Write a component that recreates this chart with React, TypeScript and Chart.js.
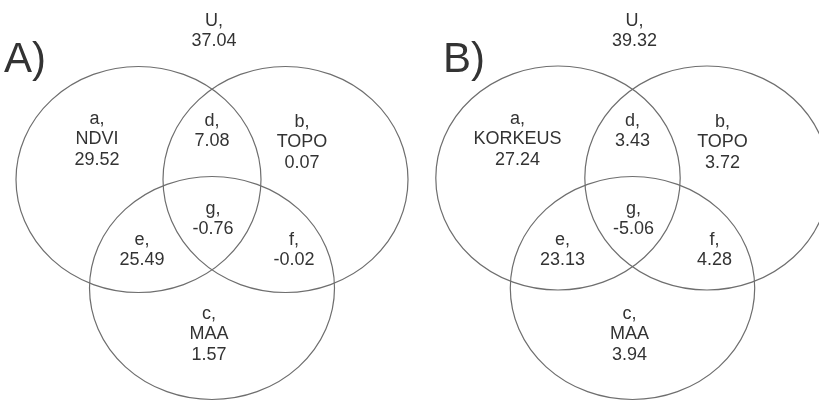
import { useEffect, useRef } from "react";
import { Chart, registerables } from "chart.js";

Chart.register(...registerables);

// Variance partitioning results (%), one three-set Venn diagram per model
const panelTitles = ["A)", "B)"];
const regionLetters = ["U", "a", "b", "c", "d", "e", "f", "g"];
const setNamesA = ["NDVI", "TOPO", "MAA"];
const setNamesB = ["KORKEUS", "TOPO", "MAA"];
const valuesA = [37.04, 29.52, 0.07, 1.57, 7.08, 25.49, -0.02, -0.76];
const valuesB = [39.32, 27.24, 3.72, 3.94, 3.43, 23.13, 4.28, -5.06];

// Drawing layout (chart units equal canvas pixels)
const W = 819;
const H = 401;
const panelCenterX = [212, 632.5];
const panelSpread = [73.5, 74.5];
const panelTopY = [179.5, 178];
const panelTopRy = [113, 112];
const panelRx = [122.5, 122.2];
const bottomSet = { y: 288, ry: 111.5 };
const titleX = [4, 443];
const titleBaseline = 72;
const lineStep = 20.5;
const regionAnchors: Record<string, { dx: number; y: number }> = {
  U: { dx: 2, y: 21 },
  a: { dx: -115, y: 119 },
  b: { dx: 90, y: 122 },
  c: { dx: -3, y: 314 },
  d: { dx: 0, y: 121 },
  e: { dx: -70, y: 240 },
  f: { dx: 82, y: 240 },
  g: { dx: 1, y: 209 },
};

const FONT = '"Liberation Sans", Arial, Helvetica, sans-serif';
const TEXT_COLOR = "#333333";
const LINE_COLOR = "#6e6e6e";

function regionLines(letter: string, value: number, names: string[]): string[] {
  const head = letter + ",";
  const v = value.toFixed(2);
  if (letter === "a") return [head, names[0], v];
  if (letter === "b") return [head, names[1], v];
  if (letter === "c") return [head, names[2], v];
  return [head, v];
}

const vennPlugin = {
  id: "vennPlugin",
  afterDatasetsDraw(chart: any) {
    const ctx: CanvasRenderingContext2D = chart.ctx;
    const xs = chart.scales.x;
    const ys = chart.scales.y;
    chart.data.datasets.forEach((ds: any, di: number) => {
      const meta = chart.getDatasetMeta(di);
      if (ds.kind === "ellipse") {
        ctx.save();
        ctx.strokeStyle = LINE_COLOR;
        ctx.lineWidth = 1.2;
        meta.data.forEach((pt: any, i: number) => {
          const raw = ds.data[i];
          const rxPx = Math.abs(xs.getPixelForValue(raw.x + raw.rx) - xs.getPixelForValue(raw.x));
          const ryPx = Math.abs(ys.getPixelForValue(raw.y + raw.ry) - ys.getPixelForValue(raw.y));
          ctx.beginPath();
          ctx.ellipse(pt.x, pt.y, rxPx, ryPx, 0, 0, Math.PI * 2);
          ctx.stroke();
        });
        ctx.restore();
      } else if (ds.kind === "labels") {
        ctx.save();
        ctx.fillStyle = TEXT_COLOR;
        ctx.textAlign = "center";
        ctx.textBaseline = "middle";
        ctx.font = `18px ${FONT}`;
        const step = Math.abs(ys.getPixelForValue(lineStep) - ys.getPixelForValue(0));
        meta.data.forEach((pt: any, i: number) => {
          const lines: string[] = ds.data[i].lines;
          lines.forEach((t, k) => ctx.fillText(t, pt.x, pt.y + k * step));
        });
        ctx.restore();
      } else if (ds.kind === "title") {
        ctx.save();
        ctx.fillStyle = TEXT_COLOR;
        ctx.textAlign = "left";
        ctx.textBaseline = "alphabetic";
        ctx.font = `42px ${FONT}`;
        meta.data.forEach((pt: any, i: number) => {
          ctx.fillText(ds.data[i].text, pt.x, pt.y);
        });
        ctx.restore();
      }
    });
  },
};

function buildDatasets() {
  const datasets: any[] = [];
  const panels = [
    { values: valuesA, names: setNamesA },
    { values: valuesB, names: setNamesB },
  ];
  panels.forEach((p, pi) => {
    const cx = panelCenterX[pi];
    const rx = panelRx[pi];
    datasets.push({
      kind: "ellipse",
      label: `${panelTitles[pi]} sets`,
      data: [
        { x: cx - panelSpread[pi], y: panelTopY[pi], rx, ry: panelTopRy[pi] },
        { x: cx + panelSpread[pi], y: panelTopY[pi], rx, ry: panelTopRy[pi] },
        { x: cx, y: bottomSet.y, rx, ry: bottomSet.ry },
      ],
      pointRadius: 0,
      showLine: false,
    });
    datasets.push({
      kind: "labels",
      label: `${panelTitles[pi]} regions`,
      data: regionLetters.map((letter, i) => ({
        x: cx + regionAnchors[letter].dx,
        y: regionAnchors[letter].y,
        lines: regionLines(letter, p.values[i], p.names),
      })),
      pointRadius: 0,
      showLine: false,
    });
    datasets.push({
      kind: "title",
      label: panelTitles[pi],
      data: [{ x: titleX[pi], y: titleBaseline, text: panelTitles[pi] }],
      pointRadius: 0,
      showLine: false,
    });
  });
  return datasets;
}

export default function App() {
  const canvasRef = useRef<HTMLCanvasElement | null>(null);

  useEffect(() => {
    document.body.style.margin = "0";
    document.body.style.background = "#ffffff";
    if (!canvasRef.current) return;
    const chart = new Chart(canvasRef.current, {
      type: "scatter",
      data: { datasets: buildDatasets() },
      options: {
        animation: false,
        responsive: false,
        events: [],
        layout: { padding: 0 },
        plugins: { legend: { display: false }, tooltip: { enabled: false } },
        scales: {
          x: { type: "linear", min: 0, max: W, display: false },
          y: { type: "linear", min: 0, max: H, reverse: true, display: false },
        },
      },
      plugins: [vennPlugin],
    } as any);
    return () => chart.destroy();
  }, []);

  return (
    <div style={{ position: "absolute", left: 0, top: 0, width: W, height: H, background: "#fff" }}>
      <canvas ref={canvasRef} width={W} height={H} style={{ width: W, height: H, display: "block" }} />
    </div>
  );
}
